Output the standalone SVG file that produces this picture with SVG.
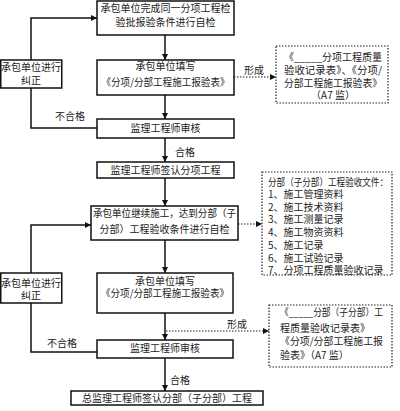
<svg xmlns="http://www.w3.org/2000/svg" width="400" height="411" viewBox="0 0 400 411">
<defs>
<marker id="ah" viewBox="0 0 10 10" refX="10" refY="5" markerWidth="6" markerHeight="6" markerUnits="userSpaceOnUse" orient="auto">
<path d="M0,0 L10,5 L0,10 z" fill="#111"/>
</marker>
<style>
.box{fill:#fff;stroke:#111;stroke-width:1.5}
.dbox{fill:#fff;stroke:#222;stroke-width:1.2;stroke-dasharray:1.5 1.5}
.ln{fill:none;stroke:#111;stroke-width:1.5}
.dl{fill:none;stroke:#222;stroke-width:1.2;stroke-dasharray:1.5 1.5}
text{font-family:"Noto Sans CJK SC","Liberation Sans",sans-serif;font-size:10px;fill:#222}
.c{text-anchor:middle}
</style>
</defs>
<rect width="400" height="411" fill="#fff"/>

<g id="connectors">
<line class="ln" x1="165" y1="35" x2="165" y2="60" marker-end="url(#ah)"/>
<line class="ln" x1="165" y1="95" x2="165" y2="119" marker-end="url(#ah)"/>
<line class="ln" x1="165" y1="138" x2="165" y2="162" marker-end="url(#ah)"/>
<line class="ln" x1="165" y1="178" x2="165" y2="206" marker-end="url(#ah)"/>
<line class="ln" x1="165" y1="240" x2="165" y2="273" marker-end="url(#ah)"/>
<line class="ln" x1="165" y1="313" x2="165" y2="340" marker-end="url(#ah)"/>
<line class="ln" x1="165" y1="358" x2="165" y2="391" marker-end="url(#ah)"/>
<polyline class="ln" points="97,128 31,128 31,88"/>
<polyline class="ln" points="31,60 31,18 97,18" marker-end="url(#ah)"/>
<polyline class="ln" points="97,352 31,352 31,303"/>
<polyline class="ln" points="31,273 31,225 91,225" marker-end="url(#ah)"/>
<line class="dl" x1="234" y1="77" x2="276" y2="77" marker-end="url(#ah)"/>
<line class="dl" x1="238" y1="224" x2="262" y2="224" marker-end="url(#ah)"/>
<line class="dl" x1="166" y1="331" x2="269" y2="331" marker-end="url(#ah)"/>
<text class="c" x="185" y="156">合格</text>
<text class="c" x="180" y="384">合格</text>
<text class="c" x="70" y="120">不合格</text>
<text class="c" x="62" y="347">不合格</text>
<text class="c" x="254" y="74">形成</text>
<text class="c" x="237" y="328">形成</text>
</g>

<g id="n1">
<rect class="box" x="97" y="1" width="137" height="34"/>
<text class="c" x="165.5" y="12">承包单位完成同一分项工程检</text>
<text class="c" x="165.5" y="26">验批报验条件进行自检</text>
</g>
<g id="n2">
<rect class="box" x="97" y="60" width="137" height="35"/>
<text class="c" x="165.5" y="70">承包单位填写</text>
<text class="c" x="165.5" y="86" textLength="128" lengthAdjust="spacingAndGlyphs">《分项/分部工程施工报验表》</text>
</g>
<g id="n3">
<rect class="box" x="97" y="119" width="137" height="19"/>
<text class="c" x="165.5" y="132">监理工程师审核</text>
</g>
<g id="n4">
<rect class="box" x="97" y="162" width="137" height="16"/>
<text class="c" x="165.5" y="174">监理工程师签认分项工程</text>
</g>
<g id="n5">
<rect class="box" x="91" y="206" width="147" height="34"/>
<text class="c" x="164.5" y="217" textLength="143" lengthAdjust="spacingAndGlyphs">承包单位继续施工，达到分部（子</text>
<text class="c" x="164.5" y="233">分部）工程验收条件进行自检</text>
</g>
<g id="n6">
<rect class="box" x="97" y="273" width="136" height="40"/>
<text class="c" x="165" y="285">承包单位填写</text>
<text class="c" x="165" y="297" textLength="128" lengthAdjust="spacingAndGlyphs">《分项/分部工程施工报验表》</text>
</g>
<g id="n7">
<rect class="box" x="97" y="340" width="136" height="18"/>
<text class="c" x="165" y="352">监理工程师审核</text>
</g>
<g id="n8">
<rect class="box" x="71" y="391" width="192" height="14"/>
<text class="c" x="167" y="402">总监理工程师签认分部（子分部）工程</text>
</g>
<g id="nA">
<rect class="box" x="0.75" y="60" width="61" height="28"/>
<text class="c" x="31" y="71">承包单位进行</text>
<text class="c" x="31" y="84">纠正</text>
</g>
<g id="nB">
<rect class="box" x="0.75" y="273" width="61" height="30"/>
<text class="c" x="31" y="287">承包单位进行</text>
<text class="c" x="31" y="299">纠正</text>
</g>
<g id="d1">
<rect class="dbox" x="276" y="46" width="112" height="57"/>
<text class="c" x="333" y="61">《_____分项工程质量</text>
<text class="c" x="333" y="74" textLength="98" lengthAdjust="spacingAndGlyphs">验收记录表》、《分项/</text>
<text class="c" x="333" y="87" textLength="98" lengthAdjust="spacingAndGlyphs">分部工程施工报验表》</text>
<text class="c" x="333" y="99">（A7 监）</text>
</g>
<g id="d2">
<rect class="dbox" x="262" y="172" width="130" height="103"/>
<text x="268" y="186" textLength="120" lengthAdjust="spacingAndGlyphs">分部（子分部）工程验收文件：</text>
<text x="268" y="198">1、施工管理资料</text>
<text x="268" y="211">2、施工技术资料</text>
<text x="268" y="223">3、施工测量记录</text>
<text x="268" y="236">4、施工物资资料</text>
<text x="268" y="249">5、施工记录</text>
<text x="268" y="262">6、施工试验记录</text>
<text x="268" y="274">7、分项工程质量验收记录</text>
</g>
<g id="d3">
<rect class="dbox" x="269" y="305" width="123" height="62"/>
<text x="280" y="316" textLength="103" lengthAdjust="spacingAndGlyphs">《_____分部（子分部）工</text>
<text x="280" y="332">程质量验收记录表》</text>
<text x="280" y="345" textLength="103" lengthAdjust="spacingAndGlyphs">《分项/分部工程施工报</text>
<text x="280" y="359">验表》（A7 监）</text>
</g>
</svg>
